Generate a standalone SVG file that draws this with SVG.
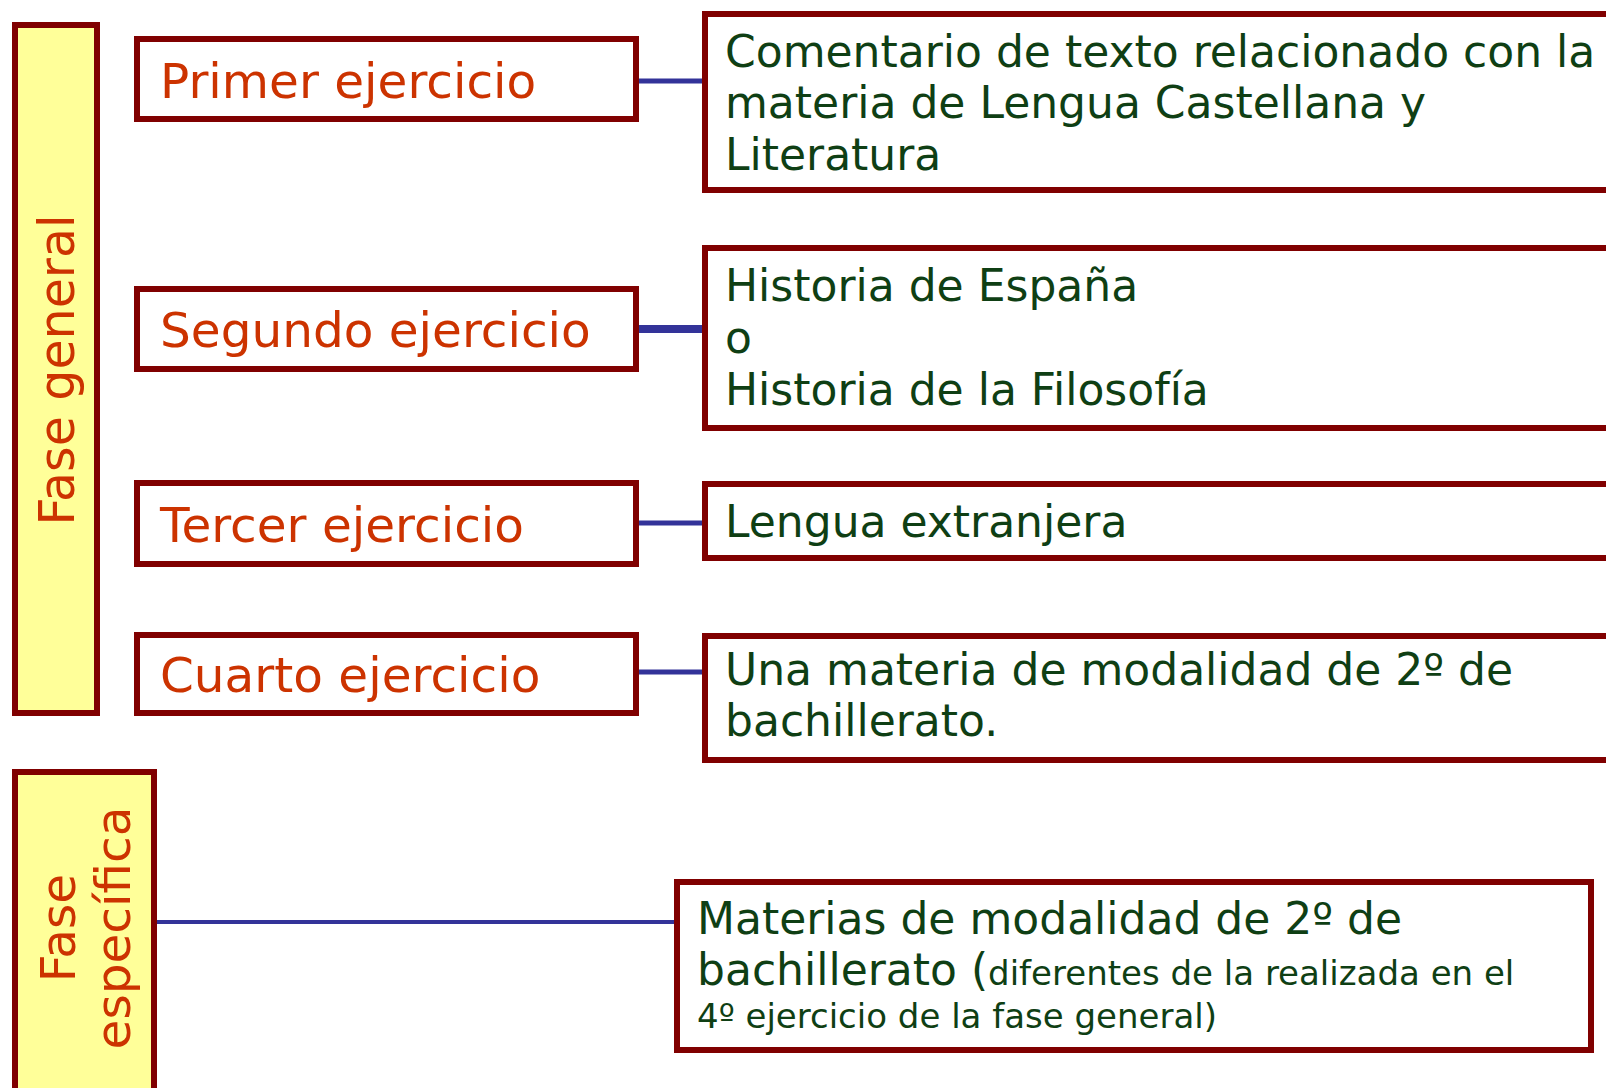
<svg xmlns="http://www.w3.org/2000/svg" width="1606" height="1088" viewBox="0 0 1606 1088">
<style>
.box{fill:#fff;stroke:#800000;stroke-width:6}
.phase{fill:#ffff99;stroke:#800000;stroke-width:6}
.lt{font-family:"DejaVu Sans",Verdana,sans-serif;font-size:48.5px;fill:#cc3300}
.vt{font-size:49px}
.rt{font-family:"DejaVu Sans",Verdana,sans-serif;font-size:44px;fill:#0f3f14}
.sm{font-size:34px}
.con{stroke:#333399;fill:none}
</style>
<rect width="1606" height="1088" fill="#fff"/>
<g id="connectors">
<line class="con" x1="636" y1="81" x2="704" y2="81" stroke-width="5"/>
<line class="con" x1="636" y1="329" x2="704" y2="329" stroke-width="8"/>
<line class="con" x1="636" y1="523" x2="704" y2="523" stroke-width="5"/>
<line class="con" x1="636" y1="672" x2="704" y2="672" stroke-width="5"/>
<line class="con" x1="154" y1="922" x2="675" y2="922" stroke-width="4"/>
</g>
<g id="fase-general">
<rect class="phase" x="15" y="25" width="82" height="688"/>
<text class="lt vt" transform="translate(74,370) rotate(-90)" text-anchor="middle">Fase general</text>
</g>
<g id="fase-especifica">
<rect class="phase" x="15" y="772" width="139" height="330"/>
<text class="lt" transform="translate(75,928) rotate(-90)" text-anchor="middle">Fase</text>
<text class="lt" transform="translate(130,928) rotate(-90)" text-anchor="middle">específica</text>
</g>
<g id="primer">
<rect class="box" x="137" y="39" width="499" height="80"/>
<text class="lt" x="160" y="98">Primer ejercicio</text>
</g>
<g id="segundo">
<rect class="box" x="137" y="289" width="499" height="80"/>
<text class="lt" x="160" y="347">Segundo ejercicio</text>
</g>
<g id="tercer">
<rect class="box" x="137" y="483" width="499" height="81"/>
<text class="lt" x="160" y="542">Tercer ejercicio</text>
</g>
<g id="cuarto">
<rect class="box" x="137" y="635" width="499" height="78"/>
<text class="lt" x="160" y="692">Cuarto ejercicio</text>
</g>
<g id="r1">
<rect class="box" x="705" y="14" width="920" height="176"/>
<text class="rt"><tspan x="725" y="67">Comentario de texto relacionado con la</tspan><tspan x="725" y="118">materia de Lengua Castellana y</tspan><tspan x="725" y="170">Literatura</tspan></text>
</g>
<g id="r2">
<rect class="box" x="705" y="248" width="920" height="180"/>
<text class="rt"><tspan x="725" y="301">Historia de España</tspan><tspan x="725" y="353">o</tspan><tspan x="725" y="405">Historia de la Filosofía</tspan></text>
</g>
<g id="r3">
<rect class="box" x="705" y="484" width="920" height="74"/>
<text class="rt" x="725" y="537">Lengua extranjera</text>
</g>
<g id="r4">
<rect class="box" x="705" y="636" width="920" height="124"/>
<text class="rt"><tspan x="725" y="685">Una materia de modalidad de 2º de</tspan><tspan x="725" y="736">bachillerato.</tspan></text>
</g>
<g id="r5">
<rect class="box" x="677" y="882" width="914" height="168"/>
<text class="rt"><tspan x="697" y="934">Materias de modalidad de 2º de</tspan><tspan x="697" y="985">bachillerato (<tspan class="sm">diferentes de la realizada en el</tspan></tspan><tspan x="697" y="1028" class="sm">4º ejercicio de la fase general)</tspan></text>
</g>
</svg>
